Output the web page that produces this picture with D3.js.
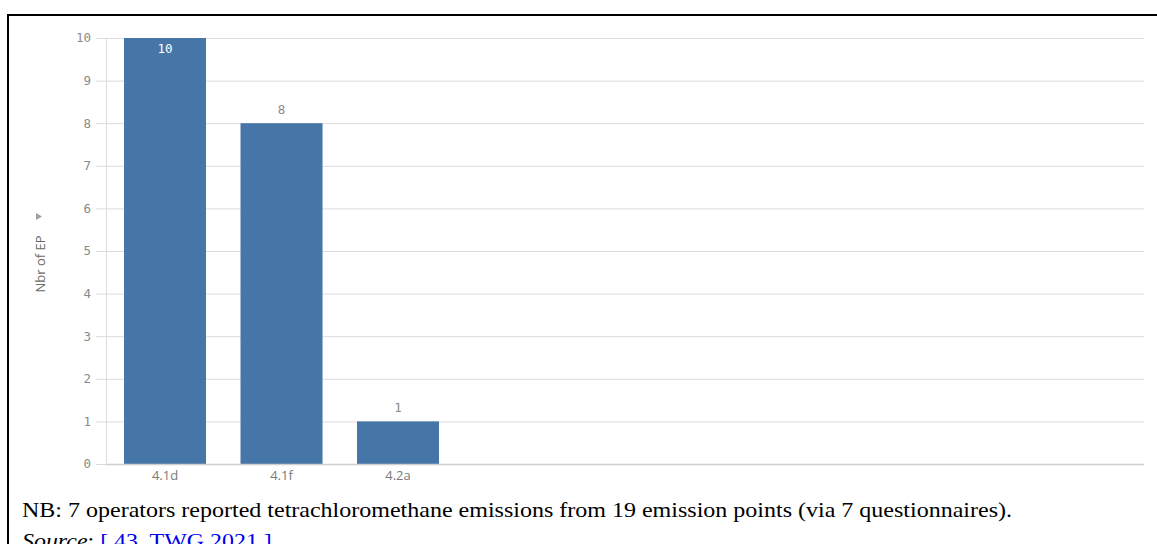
<!DOCTYPE html>
<html><head><meta charset="utf-8">
<script src="https://cdn.jsdelivr.net/npm/d3@7"></script>
<style>
html,body{margin:0;padding:0;background:#fff;overflow:hidden;}
svg{display:block;}
</style></head>
<body>
<svg id="chart" width="1157" height="544"></svg>
<script>
const categories = ["4.1d", "4.1f", "4.2a"];
const values = [10, 8, 1];
const yTicks = [0, 1, 2, 3, 4, 5, 6, 7, 8, 9, 10];
const yTitle = "Nbr of EP";
const noteText = "NB: 7 operators reported tetrachloromethane emissions from 19 emission points (via 7 questionnaires).";
const sourceLabel = "Source";
const sourceRef = "[ 43, TWG 2021 ]";

(function () {
const svg = d3.select("#chart");
const pLeft = 106, pRight = 1144, pTop = 38, pBottom = 464;
const step = 116.5;

const x = d3.scaleBand().domain(categories)
  .range([pLeft, pLeft + step * (categories.length - 0.296 + 2 * 0.1545)])
  .paddingInner(0.296).paddingOuter(0.1545);
const y = d3.scaleLinear().domain([0, 10]).range([pBottom, pTop]);

// frame
svg.append("path").attr("d", `M8,544 V15 H1157`).attr("fill", "none")
  .attr("stroke", "#000").attr("stroke-width", 2);

// gridlines
svg.append("g").selectAll("line").data(yTicks).join("line")
  .attr("x1", pLeft - 10).attr("x2", pRight)
  .attr("y1", d => y(d) + 0.5).attr("y2", d => y(d) + 0.5)
  .attr("stroke", "#dcdcdc").attr("stroke-width", 1);

// y axis line
svg.append("line").attr("x1", pLeft + 0.5).attr("x2", pLeft + 0.5)
  .attr("y1", pTop).attr("y2", pBottom).attr("stroke", "#dcdcdc");

// y tick labels
svg.append("g").selectAll("text").data(yTicks).join("text")
  .attr("x", pLeft - 15).attr("y", d => y(d)).attr("dy", "0.35em")
  .attr("text-anchor", "end").attr("font-family", "DejaVu Sans Mono")
  .attr("font-size", 12.5).attr("fill", "#8a8a8a").text(d => d);

// bars
svg.append("g").selectAll("rect").data(values).join("rect")
  .attr("x", (d, i) => x(categories[i])).attr("width", x.bandwidth())
  .attr("y", d => y(d)).attr("height", d => pBottom - y(d))
  .attr("fill", "#4676a8");

// bar labels
svg.append("g").selectAll("text").data(values).join("text")
  .attr("x", (d, i) => x(categories[i]) + x.bandwidth() / 2)
  .attr("y", d => d === 10 ? y(d) + 11 : y(d) - 14)
  .attr("dy", "0.35em")
  .attr("text-anchor", "middle").attr("font-family", "DejaVu Sans Mono")
  .attr("font-size", 12.5).attr("fill", d => d === 10 ? "#fff" : "#8a8a8a")
  .text(d => d);

// bottom axis line
svg.append("line").attr("x1", pLeft).attr("x2", pRight)
  .attr("y1", pBottom + 0.5).attr("y2", pBottom + 0.5).attr("stroke", "#cfcfcf").attr("stroke-width", 1.5);

// x labels
svg.append("g").selectAll("text").data(categories).join("text")
  .attr("x", d => x(d) + x.bandwidth() / 2).attr("y", 475).attr("dy", "0.35em")
  .attr("text-anchor", "middle").attr("font-family", "Open Sans, sans-serif")
  .attr("font-size", 13).attr("fill", "#7a7a7a").text(d => d);

// y title
const yt = svg.append("g").attr("transform", "translate(45,264) rotate(-90)");
yt.append("text").attr("x", 0).attr("y", 0).attr("text-anchor", "middle")
  .attr("font-family", "Open Sans, sans-serif").attr("font-size", 13)
  .attr("fill", "#6a6a6a").text(yTitle);
yt.append("path").attr("d", "M44,-9 L51,-9 L47.5,-3 Z").attr("fill", "#a0a0a0");

// caption
svg.append("text").attr("x", 22).attr("y", 517)
  .attr("font-family", "Liberation Serif, Times New Roman, serif").attr("font-size", 21)
  .attr("textLength", 990).attr("lengthAdjust", "spacingAndGlyphs")
  .attr("fill", "#000").text(noteText);
const src = svg.append("text").attr("x", 22).attr("y", 548)
  .attr("font-family", "Liberation Serif, Times New Roman, serif").attr("font-size", 21)
  .attr("transform", "translate(22,0) scale(1.14,1) translate(-22,0)");
src.append("tspan").attr("font-style", "italic").attr("fill", "#000").text(sourceLabel);
src.append("tspan").attr("fill", "#000").text(": ");
src.append("tspan").attr("fill", "#0000ee").text(sourceRef);
})();
</script>
</body></html>
